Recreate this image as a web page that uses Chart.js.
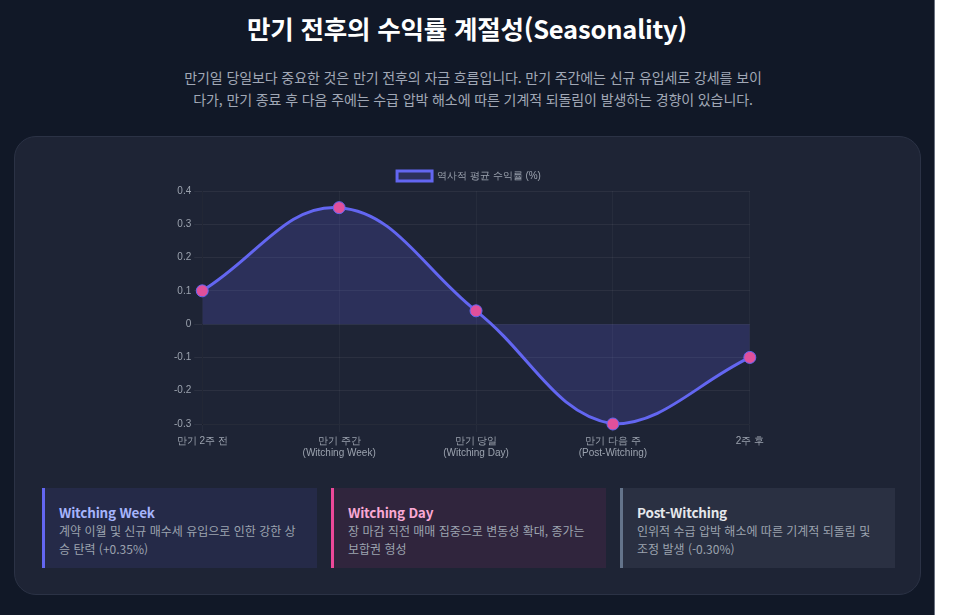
<!DOCTYPE html>
<html lang="ko">
<head>
<meta charset="UTF-8">
<script src="https://cdn.jsdelivr.net/npm/chart.js"></script>
<style>
    html { background: #ffffff; margin: 0; }
    body {
        margin: 0;
        width: 934px;
        height: 615px;
        background: #111827;
        border-right: 1px solid #6b7280;
        font-family: "Noto Sans CJK KR", "Noto Sans", sans-serif;
        overflow: hidden;
    }
    h1 {
        margin: 0;
        padding-top: 9px;
        text-align: center;
        color: #ffffff;
        font-size: 25.5px;
        font-weight: 700;
        line-height: 38px;
        letter-spacing: -0.2px;
    }
    .desc {
        width: 590px;
        margin: 19px auto 0;
        padding-left: 12px;
        text-align: center;
        color: #a1a8b6;
        font-size: 14px;
        line-height: 22px;
        letter-spacing: -0.1px;
    }
    .panel {
        position: absolute;
        left: 14px;
        top: 136px;
        width: 907px;
        height: 459px;
        background: #1e2435;
        border: 1px solid #2b3245;
        border-radius: 22px;
        box-sizing: border-box;
    }
    .chart-box {
        position: absolute;
        left: 156px;
        top: 24px;
        width: 596px;
        height: 301px;
    }
    .cards {
        position: absolute;
        left: 27px;
        top: 351px;
        width: 853px;
        display: grid;
        grid-template-columns: 1fr 1fr 1fr;
        gap: 14px;
    }
    .card {
        height: 80px;
        padding: 14px 14px 0 14px;
        box-sizing: border-box;
        border-left: 3px solid;
    }
    .card h3 {
        margin: 0;
        font-size: 13.5px;
        font-weight: 700;
        line-height: 20px;
        letter-spacing: -0.2px;
    }
    .card p {
        margin: 0;
        font-size: 12px;
        line-height: 18px;
        color: #9ca3af;
        line-break: anywhere;
    }
    .c1 { border-color: #6366f1; background: #252a48; }
    .c1 h3 { color: #a5b4fc; }
    .c2 { border-color: #ec4899; background: #30253d; }
    .c2 h3 { color: #f9a8d4; }
    .c3 { border-color: #64748b; background: #2a3042; }
    .c3 h3 { color: #e5e7eb; }
</style>
</head>
<body>
<h1>만기 전후의 수익률 계절성(Seasonality)</h1>
<p class="desc">만기일 당일보다 중요한 것은 만기 전후의 자금 흐름입니다. 만기 주간에는 신규 유입세로 강세를 보이다가, 만기 종료 후 다음 주에는 수급 압박 해소에 따른 기계적 되돌림이 발생하는 경향이 있습니다.</p>

<div class="panel">
    <div class="chart-box"><canvas id="seasonChart"></canvas></div>
    <div class="cards">
        <div class="card c1">
            <h3>Witching Week</h3>
            <p>계약 이월 및 신규 매수세 유입으로 인한 강한 상승 탄력 (+0.35%)</p>
        </div>
        <div class="card c2">
            <h3>Witching Day</h3>
            <p>장 마감 직전 매매 집중으로 변동성 확대, 종가는 보합권 형성</p>
        </div>
        <div class="card c3">
            <h3>Post-Witching</h3>
            <p>인위적 수급 압박 해소에 따른 기계적 되돌림 및 조정 발생 (-0.30%)</p>
        </div>
    </div>
</div>

<script>
    // Labels for each week around expiry
    const weekLabels = [
        "만기 2주 전",
        ["만기 주간", "(Witching Week)"],
        ["만기 당일", "(Witching Day)"],
        ["만기 다음 주", "(Post-Witching)"],
        "2주 후"
    ];

    // Average historical return (%)
    const avgReturns = [0.1, 0.35, 0.04, -0.3, -0.1];

    const seriesName = "역사적 평균 수익률 (%)";

    document.addEventListener("DOMContentLoaded", function() {
        const ctx = document.getElementById("seasonChart").getContext("2d");

        Chart.defaults.font.size = 10;

        new Chart(ctx, {
            type: "line",
            data: {
                labels: weekLabels,
                datasets: [{
                    label: seriesName,
                    data: avgReturns,
                    borderColor: "#6366f1",
                    backgroundColor: "rgba(99, 102, 241, 0.2)",
                    borderWidth: 3,
                    fill: true,
                    tension: 0.4,
                    pointRadius: 6,
                    pointBackgroundColor: "#e0509b",
                    pointBorderColor: "#6366f1",
                    pointBorderWidth: 1
                }]
            },
            options: {
                responsive: true,
                maintainAspectRatio: false,
                animation: false,
                plugins: {
                    legend: {
                        labels: {
                            color: "#9ca3af",
                            boxWidth: 35,
                            boxHeight: 10
                        }
                    }
                },
                scales: {
                    x: {
                        ticks: { color: "#9ca3af" },
                        grid: { color: "rgba(255, 255, 255, 0.04)" }
                    },
                    y: {
                        ticks: { color: "#9ca3af" },
                        grid: { color: "rgba(255, 255, 255, 0.06)" }
                    }
                }
            }
        });
    });
</script>
</body>
</html>
